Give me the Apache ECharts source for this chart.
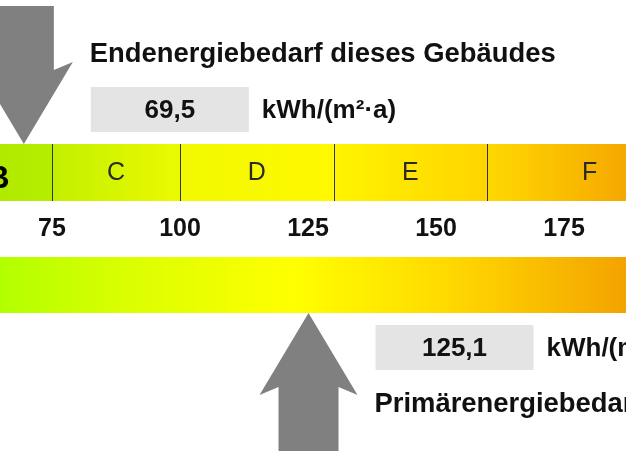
<!DOCTYPE html>
<html><head><meta charset="utf-8">
<script src="https://cdn.jsdelivr.net/npm/echarts/dist/echarts.min.js"></script>
<style>html,body{margin:0;padding:0;background:#fff;overflow:hidden}#c{width:626px;height:470px}</style>
</head><body><div id="c"></div>
<script>
// ---- data ----
const classNames = ['B', 'C', 'D', 'E', 'F'];
const classBounds = [50, 75, 100, 130, 160, 200];
const tickValues = [75, 100, 125, 150, 175];
const endEnergyValue = 69.5;
const primaryEnergyValue = 125.1;
const endEnergyText = '69,5';
const primaryEnergyText = '125,1';
const unitText = 'kWh/(m²·a)';
const endTitle = 'Endenergiebedarf dieses Gebäudes';
const primaryTitle = 'Primärenergiebedarf dieses Gebäudes';

// ---- styles ----
const FONT = '"Liberation Sans", Arial, Helvetica, sans-serif';
const bandColors = [
  ['#a8e400', '#b6ee00'],
  ['#c2f000', '#ecfa00'],
  ['#f2fa00', '#fff800'],
  ['#fff400', '#ffd400'],
  ['#ffd800', '#f09200']
];
const arrowColor = '#808080';
const boxColor = '#e4e4e4';
const TOP_BAR = { y: 144, h: 57 };
const BOT_BAR = { y: 257, h: 56 };

const chart = echarts.init(document.getElementById('c'), null, { renderer: 'canvas' });

function bandItem(params, api) {
  const i = api.value(3);
  const x0 = api.coord([api.value(0), 0])[0];
  const x1 = api.coord([api.value(1), 0])[0];
  const name = classNames[i];
  const active = endEnergyValue >= classBounds[i] && endEnergyValue < classBounds[i + 1];
  const children = [{
    type: 'rect',
    shape: { x: x0, y: TOP_BAR.y, width: x1 - x0, height: TOP_BAR.h },
    style: { fill: new echarts.graphic.LinearGradient(x0, 0, x1, 0, [
      { offset: 0, color: bandColors[i][0] }, { offset: 1, color: bandColors[i][1] }], true) }
  }];
  if (i > 0) {
    children.push({
      type: 'line',
      shape: { x1: Math.round(x0) + 0.5, y1: TOP_BAR.y, x2: Math.round(x0) + 0.5, y2: TOP_BAR.y + TOP_BAR.h },
      style: { stroke: '#333', lineWidth: 1 }
    });
  }
  children.push({
    type: 'text',
    x: (x0 + x1) / 2 + (active ? 10 : 0),
    y: active ? 179 : 173,
    style: {
      text: name, x: 0, y: 0, align: 'center', verticalAlign: 'middle',
      font: (active ? 'bold 32px ' : '25px ') + FONT,
      fill: active ? '#000' : '#2a2a2a'
    }
  });
  return { type: 'group', children };
}

function bottomBarItem(params, api) {
  const x0 = api.coord([api.value(0), 0])[0];
  const x1 = api.coord([api.value(1), 0])[0];
  return {
    type: 'rect',
    shape: { x: x0, y: BOT_BAR.y, width: x1 - x0, height: BOT_BAR.h },
    style: { fill: new echarts.graphic.LinearGradient(0, 0, 626, 0, [
      { offset: 0, color: '#b2ff00' },
      { offset: 0.2, color: '#daff00' },
      { offset: 0.47, color: '#ffff00' },
      { offset: 0.72, color: '#ffd800' },
      { offset: 1, color: '#f3a300' }], true) }
  };
}

function tickItem(params, api) {
  const x = api.coord([api.value(0), 0])[0];
  return {
    type: 'text', x: x, y: 229,
    style: { text: String(api.value(0)), x: 0, y: 0, align: 'center', verticalAlign: 'middle',
      font: 'bold 25px ' + FONT, fill: '#111' }
  };
}

function arrowItem(params, api) {
  const idx = params.dataIndex;
  const tx = api.coord([api.value(0), 0])[0];
  const down = idx === 0;
  const tip = down ? TOP_BAR.y : BOT_BAR.y + BOT_BAR.h;
  const s = down ? -1 : 1;
  const hw = 30, ww = 49, wy = 82, jy = 74, len = 138;
  const pts = [
    [tx, tip],
    [tx + ww, tip + s * wy],
    [tx + hw, tip + s * jy],
    [tx + hw, tip + s * len],
    [tx - hw, tip + s * len],
    [tx - hw, tip + s * jy],
    [tx - ww, tip + s * wy]
  ];
  const valueText = down ? endEnergyText : primaryEnergyText;
  const title = down ? endTitle : primaryTitle;
  const boxY = down ? 87 : 325;
  const titleY = down ? 54 : 404;
  const children = [
    { type: 'polygon', shape: { points: pts }, style: { fill: arrowColor } },
    { type: 'rect', shape: { x: tx + 67, y: boxY, width: 158, height: 45 }, style: { fill: boxColor } },
    { type: 'text', x: tx + 146, y: boxY + 24,
      style: { text: valueText, x: 0, y: 0, align: 'center', verticalAlign: 'middle', font: 'bold 26px ' + FONT, fill: '#111' } },
    { type: 'text', x: tx + 238, y: boxY + 24,
      style: { text: unitText, x: 0, y: 0, align: 'left', verticalAlign: 'middle', font: 'bold 26px ' + FONT, fill: '#111' } },
    { type: 'text', x: tx + 66, y: titleY,
      style: { text: title, x: 0, y: 0, align: 'left', verticalAlign: 'middle', font: 'bold 27.4px ' + FONT, fill: '#111' } }
  ];
  return { type: 'group', children };
}

chart.setOption({
  animation: false,
  backgroundColor: '#ffffff',
  grid: { left: 52, right: 62, top: 0, bottom: 0 },
  xAxis: { type: 'value', min: 75, max: 175, show: false },
  yAxis: { type: 'value', min: 0, max: 470, inverse: true, show: false },
  series: [
    { type: 'custom', clip: false, renderItem: bottomBarItem,
      data: [[classBounds[0], classBounds[classBounds.length - 1]]] },
    { type: 'custom', clip: false, renderItem: bandItem,
      data: classNames.map((n, i) => [classBounds[i], classBounds[i + 1], 0, i]) },
    { type: 'custom', clip: false, renderItem: tickItem, data: tickValues.map(v => [v]) },
    { type: 'custom', clip: false, renderItem: arrowItem,
      data: [[endEnergyValue], [primaryEnergyValue]] }
  ]
});
</script></body></html>
